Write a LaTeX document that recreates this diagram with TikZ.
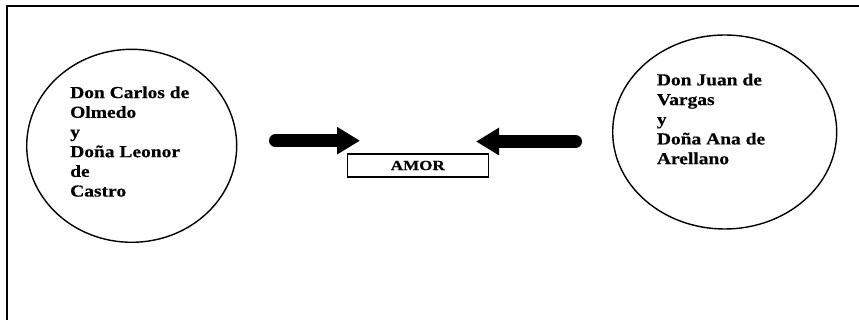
\documentclass[tikz,border=0pt]{standalone}
\usepackage{fontspec}
\setmainfont{Liberation Serif}[FakeStretch=1.16, FakeBold=0.5]
\newfontfamily\amorfont{Liberation Serif}[FakeStretch=1.22, FakeBold=0.5]
\usetikzlibrary{shapes.geometric,arrows.meta}

\tikzset{
  couple/.style={ellipse, draw=black, line width=1.4pt, inner sep=0pt},
  names/.style={anchor=north west, inner sep=0pt, align=left,
    font=\bfseries\fontsize{16.8}{19.7}\selectfont},
  lovebox/.style={rectangle, draw=black, line width=1.2pt, inner sep=0pt,
    minimum width=141pt, minimum height=23pt,
    font=\amorfont\bfseries\fontsize{14}{16}\selectfont},
  bigarrow/.style={line width=13pt, line cap=round,
    -{Triangle[length=23pt, width=26pt]}},
  frameline/.style={line width=1.4pt}
}

\begin{document}
\begin{tikzpicture}[x=1pt, y=-1pt]
  \useasboundingbox (0,0) rectangle (859,320);

  % open frame: top and left edges
  \coordinate (fbl) at (7,322);
  \coordinate (ftl) at (7,6);
  \coordinate (ftr) at (861,6);
  \draw[frameline] (fbl) -- (ftl) -- (ftr);

  % the two couples
  \node[couple, minimum width=210pt, minimum height=193pt] (left) at (131.7,145.8) {};
  \node[couple, minimum width=224pt, minimum height=194pt] (right) at (724.7,132) {};

  \node[names] (leftnames) at (70,86.2)
    {Don Carlos de\\Olmedo\\y\\Doña Leonor\\de\\Castro};
  \node[names] (rightnames) at (656.7,73.5)
    {Don Juan de\\Vargas\\y\\Doña Ana de\\Arellano};

  % the bond between them
  \node[lovebox] (amor) at (417.8,165.5) {AMOR};

  % arrows pointing towards it
  \coordinate (la0) at (275.5,140.7);
  \coordinate (la1) at (360,140.7);
  \coordinate (ra0) at (575.5,141.5);
  \coordinate (ra1) at (476,141.5);
  \draw[bigarrow] (la0) -- (la1);
  \draw[bigarrow] (ra0) -- (ra1);
\end{tikzpicture}
\end{document}
